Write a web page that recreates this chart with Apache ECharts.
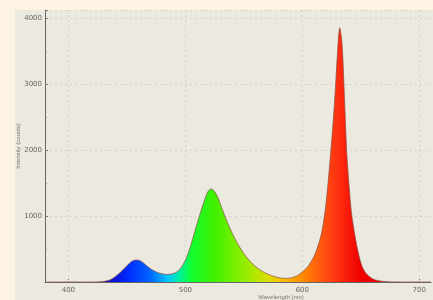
<!DOCTYPE html>
<html>
<head>
<meta charset="utf-8">
<script src="https://cdn.jsdelivr.net/npm/echarts@6/dist/echarts.min.js"></script>
<style>
    html, body { margin: 0; padding: 0; background: #fdf3e3; }
    #demo { width: 433px; height: 300px; }
</style>
</head>
<body>
<div id="demo"></div>
<script>
    // spectrum
    var wavelengths = [380, 420, 428, 432, 436, 440, 444, 448, 452, 455, 458, 461, 464, 468, 472, 476, 480, 484, 488, 492, 496,
        500, 504, 508, 512, 516, 519, 522, 525, 528, 532, 536, 540, 545, 550, 556, 562, 568, 574, 580, 585, 590, 595,
        600, 605, 610, 614, 617, 620, 623, 626, 628, 630, 632, 634, 636, 638, 640, 642, 645, 648, 651, 655, 660, 665, 672, 690, 710];
    var intensity = [0, 0, 5, 15, 35, 80, 140, 210, 280, 320, 335, 325, 290, 230, 180, 145, 125, 115, 120, 145, 210,
        330, 520, 760, 1000, 1220, 1360, 1410, 1370, 1270, 1080, 900, 740, 570, 430, 300, 205, 140, 95, 65, 55, 60, 90,
        150, 240, 390, 580, 790, 1150, 1700, 2350, 2850, 3450, 3850, 3600, 2800, 1950, 1450, 1050, 700, 430, 240, 120, 50, 20, 5, 0, 0];
    var xTicks = [400, 500, 600, 700];
    var xMinorTicks = [400, 450, 500, 550, 600, 650, 700];

    // spectral colours by wavelength for the fill
    var stopNm = [380, 430, 450, 470, 485, 495, 505, 525, 550, 570, 585, 600, 615, 630, 650, 710];
    var stopColor = ['#1a00a0', '#1a00b0', '#0028ff', '#0064ff', '#00c8ff', '#00f0a0', '#10ff30', '#40f000', '#90ee00',
        '#d8e000', '#ffb800', '#ff8a00', '#ff5a10', '#ff3010', '#f00000', '#e00000'];

    var xMin = 380, xMax = 710;
    var colorStops = stopNm.map(function (nm, i) {
        return { offset: (nm - xMin) / (xMax - xMin), color: stopColor[i] };
    });

    var data = wavelengths.map(function (w, i) {
        return [w, intensity[i]];
    });

    var chart = echarts.init(document.getElementById('demo'));

    var labelStyle = { fontSize: 7, color: '#666', fontFamily: 'DejaVu Sans' };
    var gridLine = { color: '#d6d2c8', type: [2, 3], width: 1 };

    var option = {
        animation: false,
        backgroundColor: '#fdf3e3',
        graphic: [{
            type: 'rect',
            left: 15, top: 10,
            shape: { width: 418, height: 290 },
            style: { fill: '#ece9e1' },
            z: -10
        }],
        grid: { left: 45, top: 10, right: 2, bottom: 18, containLabel: false, outerBoundsMode: 'none' },
        xAxis: {
            type: 'value',
            min: xMin, max: xMax,
            name: 'Wavelength (nm)',
            nameLocation: 'middle',
            nameGap: 12,
            nameMoveOverlap: false,
            nameTextStyle: { fontSize: 6, color: '#777', padding: [0, 0, 0, 86] },
            axisLine: { lineStyle: { color: '#666', width: 1 } },
            axisTick: { inside: true, length: 3, lineStyle: { color: '#777' }, customValues: xMinorTicks },
            axisLabel: Object.assign({}, labelStyle, { customValues: xTicks, margin: 5 }),
            splitLine: { show: false }
        },
        yAxis: {
            type: 'value',
            min: 0, max: 4120, interval: 1000,
            name: 'Intensity (counts)',
            nameLocation: 'middle',
            nameGap: 24,
            nameMoveOverlap: false,
            nameTextStyle: { fontSize: 6, color: '#777' },
            axisLine: { show: true, lineStyle: { color: '#666', width: 1 } },
            axisTick: { show: true, inside: true, length: 3, lineStyle: { color: '#777' } },
            minorTick: { show: true, splitNumber: 2, length: 2, lineStyle: { color: '#888' } },
            axisLabel: Object.assign({}, labelStyle, {
                margin: 3,
                showMaxLabel: false,
                formatter: function (v) { return v === 0 ? '' : v; }
            }),
            splitLine: { show: true, lineStyle: gridLine }
        },
        series: [{
            // vertical grid lines at the major wavelength ticks
            type: 'line',
            data: [],
            z: 1,
            markLine: {
                silent: true,
                z: 1,
                symbol: 'none',
                label: { show: false },
                lineStyle: gridLine,
                data: xTicks.map(function (v) { return { xAxis: v }; })
            }
        }, {
            type: 'line',
            data: data,
            z: 10,
            smooth: 0.3,
            showSymbol: false,
            lineStyle: { color: '#8a5040', width: 1, opacity: 0.7 },
            areaStyle: {
                opacity: 1,
                color: new echarts.graphic.LinearGradient(0, 0, 1, 0, colorStops)
            }
        }]
    };

    chart.setOption(option);
</script>
</body>
</html>
